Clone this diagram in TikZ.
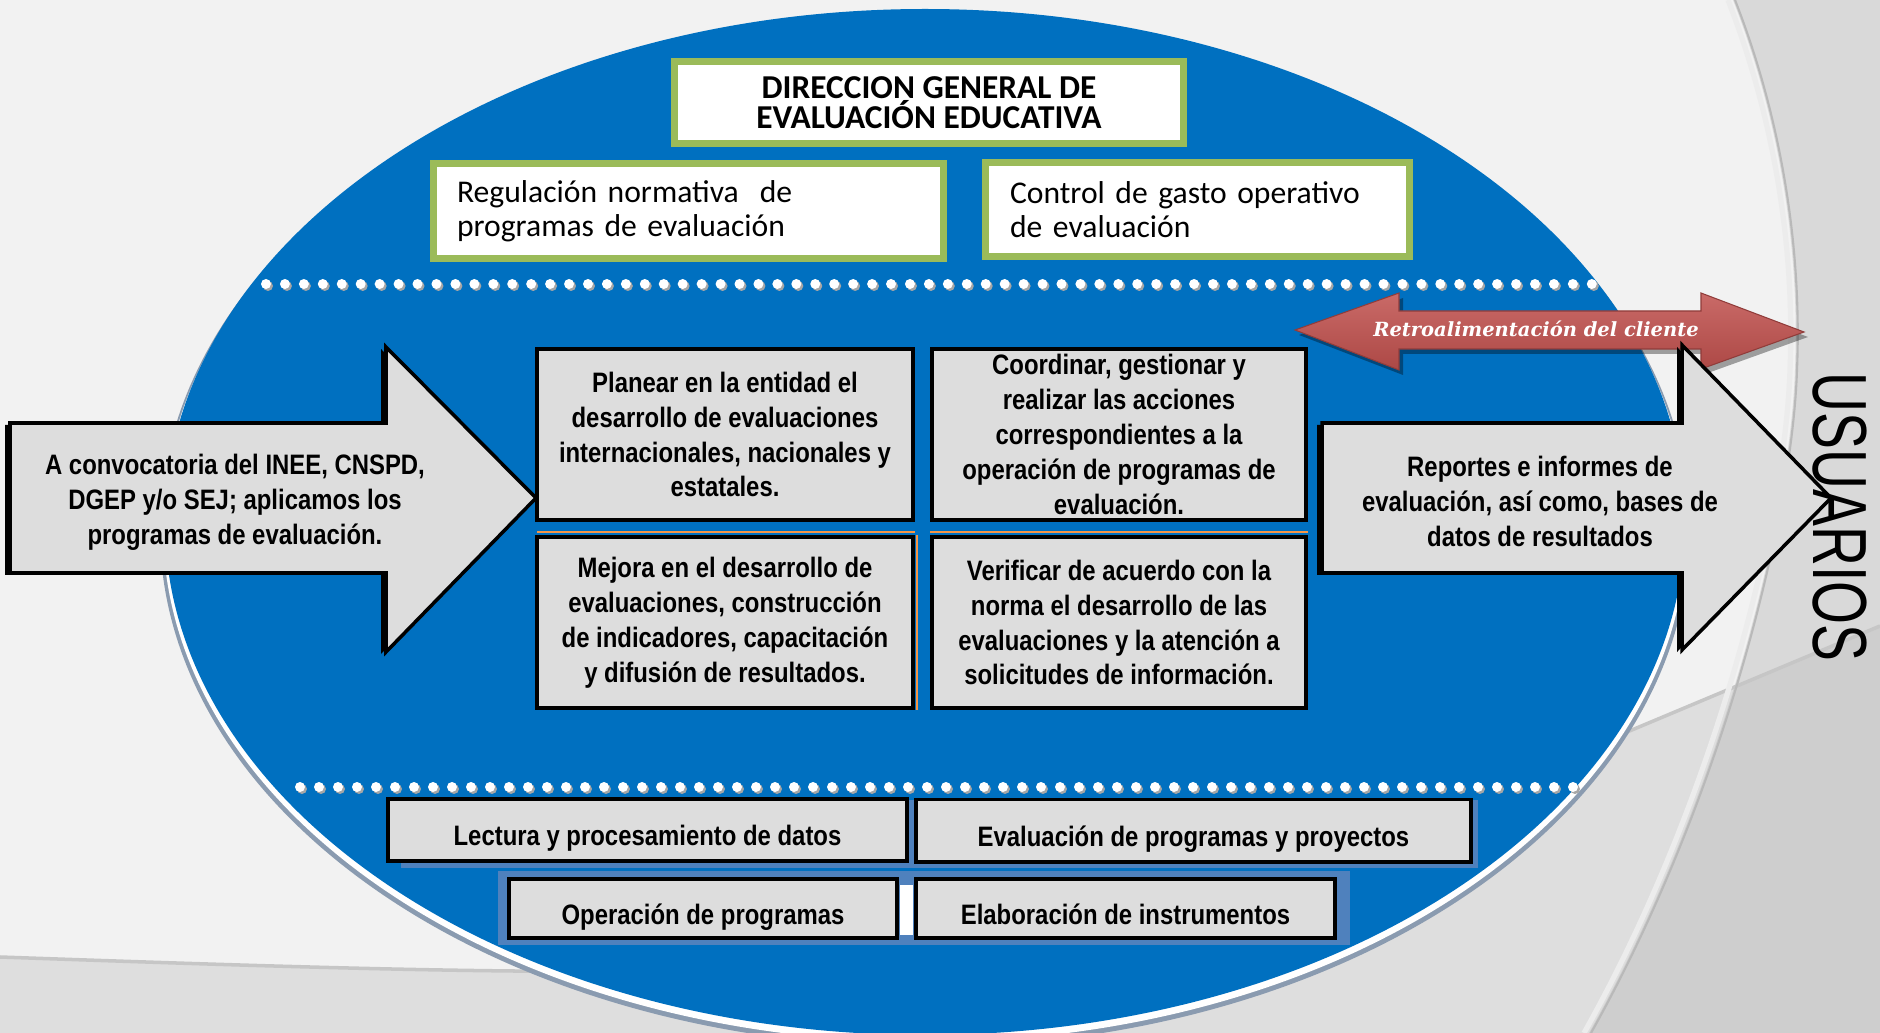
\documentclass[tikz,border=0pt]{standalone}
\usepackage{fontspec}
\usepackage{tikz}
\newfontfamily\narrowfont[FakeStretch=0.85]{Liberation Sans}
\newfontfamily\calfont{Carlito}
\newfontfamily\retrofont{DejaVu Serif}
\newfontfamily\usrfont[FakeStretch=0.72]{Liberation Sans}
\definecolor{azul}{HTML}{0070C0}
\definecolor{celeste}{HTML}{4F81BD}
\definecolor{verde}{HTML}{9BBB59}
\definecolor{gris}{HTML}{DDDDDD}
\definecolor{rojo}{HTML}{C0504D}
\definecolor{naranja}{HTML}{F79646}
\definecolor{fondo}{HTML}{F2F2F2}
\definecolor{fondob}{HTML}{DEDEDE}
\definecolor{fondoc}{HTML}{D9D9D9}
\definecolor{fondod}{HTML}{CECECE}
\definecolor{borde}{HTML}{8A9BB0}

\begin{document}
\begin{tikzpicture}[x=0.02cm,y=-0.02cm]
        \tikzset{
        dge head/.style={draw=verde,line width=4pt,fill=white,inner sep=0,align=center,
          font=\calfont\bfseries\fontsize{19}{14.5}\selectfont},
        dge sub/.style={draw=verde,line width=4pt,fill=white,inner sep=0,align=left,
          font=\calfont\fontsize{18}{19.2}\selectfont},
        dge box/.style={draw,line width=2pt,fill=gris,inner sep=0,align=center,
          font=\narrowfont\bfseries\fontsize{16}{19.9}\selectfont},
        dge low/.style={dge box,text height=18pt,text depth=0pt},
        dge text/.style={inner sep=0,align=center,font=\narrowfont\bfseries\fontsize{16}{19.9}\selectfont}
        }
        \useasboundingbox (0,0) rectangle (1880,1033);

        % fondo
        \fill[fondo] (0,0) rectangle (1880,1033);
        \fill[fondob] (0,957) .. controls (600,978) and (1000,990) .. (1250,890) -- (1880,626)
          -- (1880,1033) -- (0,1033) -- cycle;
        \fill[fondoc] (1733,0) .. controls (1780,120) and (1800,250) .. (1795,370)
          .. controls (1790,520) and (1720,800) .. (1589,1033) -- (1880,1033) -- (1880,0) -- cycle;
        \begin{scope}
        \clip (0,957) .. controls (600,978) and (1000,990) .. (1250,890) -- (1880,626)
          -- (1880,1033) -- (0,1033) -- cycle;
        \fill[fondod] (1733,0) .. controls (1780,120) and (1800,250) .. (1795,370)
          .. controls (1790,520) and (1720,800) .. (1589,1033) -- (1880,1033) -- (1880,0) -- cycle;
        \end{scope}
        \draw[gray!45,line width=2pt] (0,957) .. controls (600,978) and (1000,990) .. (1250,890) -- (1880,626);
        \draw[white!85!gray,line width=3pt] (1728,0) .. controls (1775,120) and (1795,250) .. (1790,370)
          .. controls (1785,520) and (1715,800) .. (1584,1033);
        \draw[gray!55,line width=1.2pt] (1735,0) .. controls (1782,120) and (1802,250) .. (1797,370)
          .. controls (1792,520) and (1722,800) .. (1591,1033);

        % elipse
        \fill[borde] (925,530) ellipse [x radius=765, y radius=517];
        \fill[white] (925,527) ellipse [x radius=762, y radius=515];
        \fill[azul] (925,522) ellipse [x radius=760, y radius=513];

        % puntos
        \foreach \i in {0,...,70} {
          \fill[gray!70] (268+\i*18.94,286) circle [radius=5];
          \fill[white] (266+\i*18.94,284) circle [radius=5];
        }
        \foreach \i in {0,...,67} {
          \fill[gray!70] (302+\i*19,789) circle [radius=5];
          \fill[white] (300+\i*19,787) circle [radius=5];
        }

        \node[dge head, minimum width=10.18cm, minimum height=1.64cm] (dir) at (929,102.5)
          {DIRECCION GENERAL DE\\EVALUACIÓN EDUCATIVA};
        \node[dge sub, minimum width=10.2cm, minimum height=1.9cm, text width=9.26cm, inner xsep=0.47cm] (reg)
          at (688.5,211) {Regulación normativa~ de\\programas de evaluación};
        \node[dge sub, minimum width=8.48cm, minimum height=1.88cm, text width=7.5cm, inner xsep=0.49cm] (ctrl)
          at (1197.5,209.5) {Control de gasto operativo\\de evaluación};

        % flecha roja
        \fill[black,opacity=0.35] (1299,335) -- (1403,298) -- (1403,316) -- (1705,316) -- (1705,298)
          -- (1808,337) -- (1705,374) -- (1705,354) -- (1403,354) -- (1403,375) -- cycle;
        \shade[top color=rojo!85!white, bottom color=rojo!90!black, draw=rojo!75!black, line width=0.6pt]
          (1295,330) -- (1399,293) -- (1399,311) -- (1701,311) -- (1701,293) -- (1804,332)
          -- (1701,369) -- (1701,349) -- (1399,349) -- (1399,370) -- cycle;
        \node[white, font=\retrofont\bfseries\itshape\fontsize{11.1}{12}\selectfont] (retro) at (1536,329)
          {Retroalimentación del cliente};

        % flechas grises
        \fill[black] (5,425) -- (381,425) -- (381,349) -- (531,500) -- (381,654) -- (381,575) -- (5,575) -- cycle;
        \filldraw[fill=gris, draw=black, line width=2pt] (10,423) -- (386,423) -- (386,347) -- (536,498)
          -- (386,652) -- (386,573) -- (10,573) -- cycle;
        \node[dge text] (in) at (235,502)
          {A convocatoria del INEE, CNSPD,\\DGEP y/o SEJ; aplicamos los\\programas de evaluación.};

        \fill[black] (1317,425) -- (1677,425) -- (1677,347) -- (1826,500) -- (1677,652) -- (1677,575) -- (1317,575) -- cycle;
        \filldraw[fill=gris, draw=black, line width=2pt] (1322,423) -- (1682,423) -- (1682,345) -- (1831,498)
          -- (1682,650) -- (1682,573) -- (1322,573) -- cycle;
        \node[dge text] (out) at (1540,501)
          {Reportes e informes de\\evaluación, así como, bases de\\datos de resultados};

        % cuadros centrales
        \draw[naranja, line width=1.5pt] (537,532) -- (915,532) (930,532) -- (1308,532) (917,535) -- (917,710);
        \node[dge box, minimum width=7.53cm, minimum height=3.43cm] (p1) at (725,434.5)
          {Planear en la entidad el\\desarrollo de evaluaciones\\internacionales, nacionales y\\estatales.};
        \node[dge box, minimum width=7.49cm, minimum height=3.43cm] (p2) at (1119,434.5)
          {Coordinar, gestionar y\\realizar las acciones\\correspondientes a la\\operación de programas de\\evaluación.};
        \node[dge box, minimum width=7.53cm, minimum height=3.43cm] (p3) at (725,622.5)
          {Mejora en el desarrollo de\\evaluaciones, construcción\\de indicadores, capacitación\\y difusión de resultados.};
        \node[dge box, minimum width=7.49cm, minimum height=3.43cm] (p4) at (1119,622.5)
          {Verificar de acuerdo con la\\norma el desarrollo de las\\evaluaciones y la atención a\\solicitudes de información.};

        % cuadros inferiores
        \fill[celeste] (401,800) rectangle (1478,868);
        \fill[celeste] (498,871) rectangle (1350,945);
        \fill[white] (900,885) rectangle (913,935);
        \node[dge low, minimum width=10.39cm, minimum height=1.25cm] (b1) at (647.5,830)
          {Lectura y procesamiento de datos};
        \node[dge low, minimum width=11.11cm, minimum height=1.25cm] (b2) at (1193.5,830.5)
          {Evaluación de programas y proyectos};
        \node[dge low, minimum width=7.77cm, minimum height=1.19cm] (b3) at (703,908.5)
          {Operación de programas};
        \node[dge low, minimum width=8.39cm, minimum height=1.19cm] (b4) at (1125.5,908.5)
          {Elaboración de instrumentos};

        \node[rotate=-90, inner sep=0, font=\usrfont\fontsize{43.7}{44}\selectfont] (usr) at (1840,517) {USUARIOS};
    \end{tikzpicture}
\end{document}
